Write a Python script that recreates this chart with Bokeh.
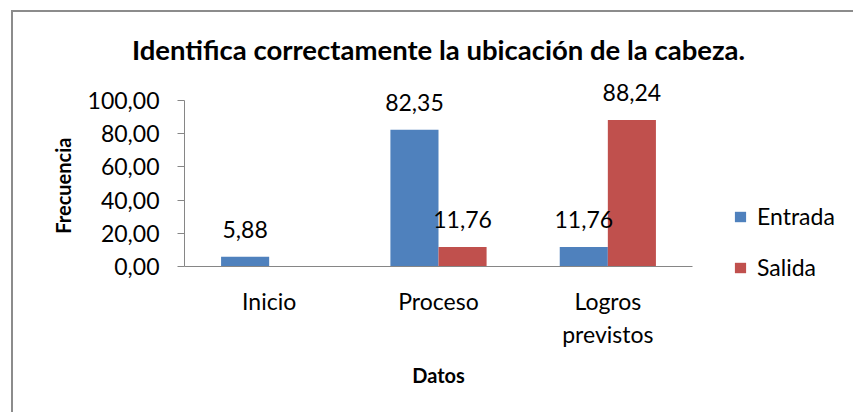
from bokeh.plotting import figure
from bokeh.models import (FactorRange, ColumnDataSource, LabelSet, Legend, LegendItem,
                          CustomJSTickFormatter, FixedTicker, Title)
from bokeh.core.properties import value
from bokeh.transform import dodge
from bokeh.embed import file_html
from bokeh.resources import INLINE

# ---- data ----
categories = ["Inicio", "Proceso", "Logros\nprevistos"]
entrada = [5.88, 82.35, 11.76]
salida = [float("nan"), 11.76, 88.24]
y_ticks = [0, 20, 40, 60, 80, 100]
title_text = "Identifica correctamente la ubicación de la cabeza."
y_label = "Frecuencia"
x_label = "Datos"
series_names = ["Entrada", "Salida"]


def fmt(v):
    return "" if v != v else f"{v:.2f}".replace(".", ",")


src = ColumnDataSource(dict(
    cat=categories,
    entrada=entrada,
    salida=salida,
    t_entrada=[fmt(v) for v in entrada],
    t_salida=[fmt(v) for v in salida],
))

FONT = "Lato"
BLUE = "#4F81BD"
RED = "#C0504D"
AXIS_GRAY = "#868686"
TXT = "23px"

p = figure(
    x_range=FactorRange(*categories, range_padding=0),
    y_range=(0, 112),
    frame_width=508, frame_height=186,
    min_border_left=171, min_border_right=159,
    min_border_top=68, min_border_bottom=146,
    output_backend="svg", toolbar_location=None,
    background_fill_color="white", border_fill_color="white",
)
p.styles = {"border-left": "2px solid #8c8c8c", "border-top": "2px solid #8c8c8c",
            "margin-left": "11px", "margin-top": "10px"}
p.outline_line_color = None
p.xgrid.visible = False
p.ygrid.visible = False

t = Title(text=title_text, align="center", text_font=FONT, text_font_style="bold",
          text_font_size="27.5px", text_color="black", standoff=29)
p.add_layout(t, "above")

off = 0.142
w = 0.284
r1 = p.vbar(x=dodge("cat", -off, range=p.x_range), top="entrada", width=w, source=src,
            fill_color=BLUE, line_color=None)
r2 = p.vbar(x=dodge("cat", off, range=p.x_range), top="salida", width=w, source=src,
            fill_color=RED, line_color=None)

for col, tcol, dx in (("entrada", "t_entrada", -off), ("salida", "t_salida", off)):
    p.add_layout(LabelSet(x=dodge("cat", dx, range=p.x_range), y=col, text=tcol, source=src,
                          text_align="center", text_baseline="alphabetic", y_offset=19,
                          text_font=value(FONT), text_font_size=TXT, text_color="black"))

# y axis
ya = p.yaxis[0]
ya.bounds = (0, 100)
ya.ticker = FixedTicker(ticks=y_ticks)
ya.formatter = CustomJSTickFormatter(code="return tick.toFixed(2).replace('.', ',');")
ya.axis_line_color = AXIS_GRAY
ya.major_tick_line_color = AXIS_GRAY
ya.major_tick_out = 7
ya.major_tick_in = 0
ya.minor_tick_line_color = None
ya.major_label_standoff = 18
ya.major_label_text_font = FONT
ya.major_label_text_font_size = TXT
ya.major_label_text_color = "black"
# trailing no-break spaces centre the label on the 0-100 span of the axis
ya.axis_label = y_label + "\u00a0" * 5
ya.axis_label_text_font = FONT
ya.axis_label_text_font_style = "bold"
ya.axis_label_text_font_size = "20px"
ya.axis_label_text_color = "black"
ya.axis_label_standoff = 10

# x axis
xa = p.xaxis[0]
xa.axis_line_color = AXIS_GRAY
xa.major_tick_line_color = None
xa.major_label_standoff = 14
xa.major_label_text_font = FONT
xa.major_label_text_font_size = TXT
xa.major_label_text_color = "black"
xa.axis_label = x_label
xa.axis_label_text_font = FONT
xa.axis_label_text_font_style = "bold"
xa.axis_label_text_font_size = "20px"
xa.axis_label_text_color = "black"
xa.axis_label_standoff = 12

legend = Legend(items=[LegendItem(label=series_names[0], renderers=[r1]),
                       LegendItem(label=series_names[1], renderers=[r2])],
                location=(41, -15), orientation="vertical",
                glyph_width=14, glyph_height=13, label_height=24, spacing=23,
                label_standoff=10, padding=0, margin=0,
                label_text_font=FONT, label_text_font_size=TXT, label_text_color="black",
                border_line_color=None, background_fill_alpha=0)
p.add_layout(legend, "right")

open("out.html", "w").write(file_html(p, INLINE))
